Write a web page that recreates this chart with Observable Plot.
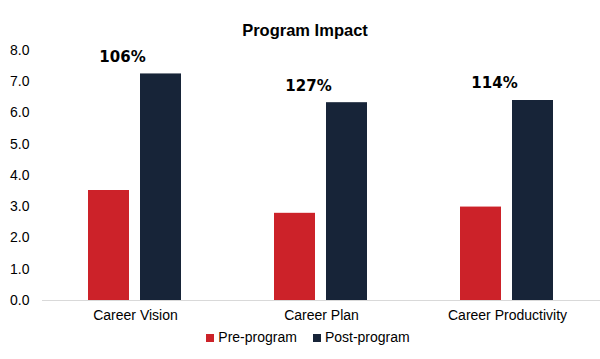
<!DOCTYPE html>
<html><head><meta charset="utf-8">
<script src="https://cdn.jsdelivr.net/npm/d3@7"></script>
<script src="https://cdn.jsdelivr.net/npm/@observablehq/plot@0.6"></script>
<style>
body{margin:0;background:#fff;font-family:"Liberation Sans",Arial,sans-serif;}
#wrap{position:relative;width:600px;height:359px;}
#title{position:absolute;top:21px;left:0;width:610px;text-align:center;font-weight:bold;font-size:16.5px;color:#000;}
#legend{position:absolute;top:329px;left:0;width:616px;display:flex;justify-content:center;gap:16px;font-size:14px;color:#000;}
#legend span.sw{display:inline-block;width:8px;height:8px;margin-right:4px;vertical-align:0px;}
</style></head>
<body><div id="wrap"><div id="title">Program Impact</div><div id="chart"></div><div id="legend"></div></div>
<script>
const categories = ["Career Vision", "Career Plan", "Career Productivity"];
const series = ["Pre-program", "Post-program"];
const preValues = [3.52, 2.79, 2.99];
const postValues = [7.25, 6.33, 6.40];
const changeLabels = ["106%", "127%", "114%"];
const colors = ["#CC2229", "#172438"];

const data = [];
categories.forEach((c, i) => {
  data.push({category: c, series: series[0], value: preValues[i]});
  data.push({category: c, series: series[1], value: postValues[i]});
});
const labels = categories.map((c, i) => ({category: c, value: postValues[i], label: changeLabels[i]}));

const chart = Plot.plot({
  width: 600,
  height: 327,
  marginTop: 50,
  marginBottom: 27,
  marginLeft: 41,
  marginRight: 0,
  style: {fontFamily: "'Liberation Sans', Arial, sans-serif", fontSize: "14px", color: "#000", background: "#fff"},
  fx: {domain: categories, padding: 0, label: null, tickSize: 0, tickPadding: 10, axis: "bottom"},
  x: {domain: series, paddingInner: 0.21, paddingOuter: 0.868, axis: null},
  y: {domain: [0, 8], ticks: d3.range(0, 8.01, 1), tickFormat: d => d.toFixed(1), label: null, tickSize: 0, tickPadding: 13},
  color: {domain: series, range: colors},
  marks: [
    Plot.ruleY([0], {stroke: "#d9d9d9", strokeWidth: 1}),
    Plot.barY(data, {fx: "category", x: "series", y: "value", fill: "series"}),
    Plot.text(labels, {fx: "category", y: "value", text: "label", dy: -17, dx: -13, frameAnchor: "middle",
      fontFamily: "'DejaVu Sans', sans-serif", fontWeight: "bold", fontSize: 15, fill: "#000"})
  ]
});
document.getElementById("chart").appendChild(chart);

const legend = document.getElementById("legend");
series.forEach((s, i) => {
  const item = document.createElement("div");
  item.innerHTML = `<span class="sw" style="background:${colors[i]}"></span>${s}`;
  legend.appendChild(item);
});
</script></body></html>
